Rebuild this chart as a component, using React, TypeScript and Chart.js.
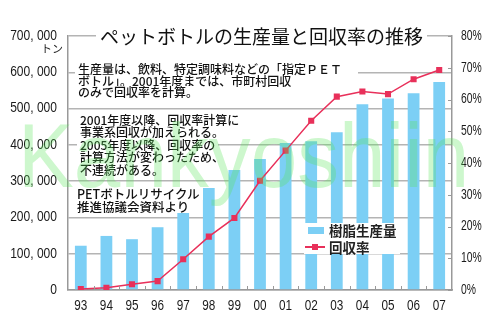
import React, { useEffect, useRef } from "react";
import { Chart, registerables } from "chart.js";

Chart.register(...registerables);

const categories = ["93", "94", "95", "96", "97", "98", "99", "00", "01", "02", "03", "04", "05", "06", "07"];
const production = [122000, 149000, 140000, 173000, 218000, 281000, 331000, 361000, 405000, 410000, 435000, 512000, 528000, 542000, 573000];
const recoveryRate = [0.3, 0.7, 1.8, 2.8, 9.7, 16.8, 22.7, 34.4, 43.9, 53.3, 60.9, 62.5, 61.7, 66.4, 69.3];

const leftTicks = { min: 0, max: 700000, step: 100000 };
const rightTicks = { min: 0, max: 80, step: 10 };

const titleText = "ペットボトルの生産量と回収率の推移";
const barLabel = "樹脂生産量";
const lineLabel = "回収率";
const unitLabel = "トン";
const note1 = ["生産量は、飲料、特定調味料などの「指定ＰＥＴ", "ボトル」。2001年度までは、市町村回収", "のみで回収率を計算。"];
const note2 = ["2001年度以降、回収率計算に", "事業系回収が加えられる。", "2005年度以降、回収率の", "計算方法が変わったため、", "不連続がある。"];
const note3 = ["PETボトルリサイクル", "推進協議会資料より"];
const watermark = "Kankyoshiin";

const BAR_COLOR = "#7ccff5";
const LINE_COLOR = "#e8305a";
const AXIS_COLOR = "#999";
const JP = "'Noto Sans CJK JP', 'Noto Sans', sans-serif";
const TICK_FONT = "'Liberation Sans', Arial, sans-serif";

const fmtLeft = (v: number) => v.toLocaleString("en-US").replace(/,/g, ", ");
const fmtRight = (v: number) => `${v}%`;

// draws tick labels horizontally condensed, at the positions given by the chart's scales
const narrowTicks = {
  id: "narrowTicks",
  afterDraw(chart: any) {
    const { ctx, scales, chartArea } = chart;
    const draw = (text: string, x: number, y: number, align: "left" | "right" | "center", sx: number, size: number) => {
      ctx.save();
      ctx.translate(x, y);
      ctx.scale(sx, 1);
      ctx.font = `${size}px ${TICK_FONT}`;
      ctx.fillStyle = "#1a1a1a";
      ctx.textAlign = align;
      ctx.textBaseline = "middle";
      ctx.fillText(text, 0, 0);
      ctx.restore();
    };
    ctx.save();
    ctx.strokeStyle = AXIS_COLOR;
    ctx.lineWidth = 1;
    scales.y.ticks.forEach((t: any) => {
      const py = scales.y.getPixelForValue(t.value);
      draw(fmtLeft(t.value), 57, py, "right", 0.86, 14);
    });
    scales.y1.ticks.forEach((t: any) => {
      const py = scales.y1.getPixelForValue(t.value);
      draw(fmtRight(t.value), 461, py, "left", 0.74, 14);
      ctx.beginPath();
      ctx.moveTo(chartArea.right - 4, Math.round(py) + 0.5);
      ctx.lineTo(chartArea.right, Math.round(py) + 0.5);
      ctx.stroke();
    });
    const xs = scales.x;
    const n = categories.length;
    xs.ticks.forEach((t: any, i: number) => {
      const px = xs.getPixelForTick(i);
      draw(String(xs.getLabelForValue(t.value)), px, 306.5, "center", 0.84, 14);
    });
    for (let i = 1; i < n; i++) {
      const bx = Math.round((xs.getPixelForTick(i - 1) + xs.getPixelForTick(i)) / 2) + 0.5;
      ctx.beginPath();
      ctx.moveTo(bx, chartArea.bottom - 4);
      ctx.lineTo(bx, chartArea.bottom);
      ctx.stroke();
    }
    ctx.restore();
  },
};

export default function App() {
  const ref = useRef<HTMLCanvasElement | null>(null);

  useEffect(() => {
    document.body.style.margin = "0";
    const ctx = ref.current!.getContext("2d")!;
    const hidden = "rgba(0,0,0,0)";
    const chart = new Chart(ctx, {
      data: {
        labels: categories,
        datasets: [
          {
            type: "line",
            label: lineLabel,
            data: recoveryRate,
            yAxisID: "y1",
            borderColor: LINE_COLOR,
            backgroundColor: LINE_COLOR,
            borderWidth: 1.5,
            pointStyle: "rect",
            pointRadius: 4.3,
            pointBackgroundColor: LINE_COLOR,
            pointBorderWidth: 0,
            order: 0,
          },
          {
            type: "bar",
            label: barLabel,
            data: production,
            yAxisID: "y",
            backgroundColor: BAR_COLOR,
            barPercentage: 0.46,
            categoryPercentage: 1,
            order: 1,
          },
        ],
      },
      options: {
        responsive: false,
        animation: false,
        layout: { padding: { top: 36, left: 0, right: 0, bottom: 0 } },
        plugins: { legend: { display: false }, title: { display: false }, tooltip: { enabled: false } },
        scales: {
          x: {
            offset: true,
            grid: { display: false },
            border: { color: AXIS_COLOR, width: 1.5 },
            ticks: { color: hidden, font: { family: TICK_FONT, size: 14 }, maxRotation: 0, autoSkip: false },
            afterFit: (s: any) => { s.height = 41; },
          },
          y: {
            position: "left",
            min: leftTicks.min,
            max: leftTicks.max,
            ticks: { stepSize: leftTicks.step, color: hidden, font: { size: 14 }, callback: (v: any) => fmtLeft(Number(v)) },
            grid: { color: "#b4b4b4", lineWidth: 1.5, drawTicks: false },
            border: { color: AXIS_COLOR, width: 1.5 },
            afterFit: (s: any) => { s.width = 68; },
          },
          y1: {
            position: "right",
            min: rightTicks.min,
            max: rightTicks.max,
            ticks: { stepSize: rightTicks.step, color: hidden, font: { size: 14 }, callback: (v: any) => fmtRight(Number(v)) },
            grid: { drawOnChartArea: false, drawTicks: false },
            border: { color: AXIS_COLOR, width: 1.5 },
            afterFit: (s: any) => { s.width = 48; },
          },
        },
      },
      plugins: [narrowTicks],
    });
    return () => chart.destroy();
  }, []);

  const lineSpan = (t: string, i: number, lh: number, padRight = 3) => (
    <div key={i} style={{ whiteSpace: "nowrap", height: lh }}>
      <span style={{ display: "inline-block", height: lh, lineHeight: `${lh}px`, background: "#fff", padding: `0 ${padRight}px 0 3px`, verticalAlign: "top" }}>{t}</span>
    </div>
  );

  return (
    <div style={{ position: "absolute", left: 0, top: 0, width: 500, height: 331, background: "#fff", overflow: "hidden" }}>
      <canvas ref={ref} width={500} height={331} style={{ position: "absolute", left: 0, top: 0 }} />
      <div style={{ position: "absolute", left: 40, top: 40, width: 23, textAlign: "right", font: `11px ${JP}`, color: "#222" }}>{unitLabel}</div>
      <div style={{ position: "absolute", left: 96, top: 24, padding: "0 4px", background: "#fff", font: `19px/24px ${JP}`, color: "#111", whiteSpace: "nowrap" }}>{titleText}</div>
      <div style={{ position: "absolute", left: 75, top: 63, font: `500 12px ${JP}`, color: "#111" }}>
        {note1.map((t, i) => lineSpan(t, i, 11.7, i === 0 ? 16 : 3))}
      </div>
      <div style={{ position: "absolute", left: 77, top: 114, font: `500 12px ${JP}`, color: "#111" }}>
        {note2.map((t, i) => lineSpan(t, i, 12.4))}
      </div>
      <div style={{ position: "absolute", left: 74, top: 187, font: `500 12.5px ${JP}`, color: "#111" }}>
        {note3.map((t, i) => lineSpan(t, i, 13))}
      </div>
      <div style={{ position: "absolute", left: 304, top: 223, width: 96, height: 31, background: "#fff", font: `bold 13.5px ${JP}`, color: "#222" }}>
        <div style={{ position: "absolute", left: 4, top: 4, width: 16, height: 7, background: BAR_COLOR }} />
        <div style={{ position: "absolute", left: 25, top: -1, lineHeight: "16px", whiteSpace: "nowrap" }}>{barLabel}</div>
        <div style={{ position: "absolute", left: 1, top: 23, width: 20, height: 1.5, background: LINE_COLOR }} />
        <div style={{ position: "absolute", left: 8, top: 21, width: 6, height: 6, background: LINE_COLOR }} />
        <div style={{ position: "absolute", left: 25, top: 16, lineHeight: "16px", whiteSpace: "nowrap" }}>{lineLabel}</div>
      </div>
      <div style={{ position: "absolute", left: 18, top: 111, font: `90px/90px 'Liberation Sans', Arial, sans-serif`, color: "rgba(90,230,90,0.3)", transform: "scaleX(0.93)", transformOrigin: "left top", whiteSpace: "nowrap", pointerEvents: "none" }}>{watermark}</div>
    </div>
  );
}
